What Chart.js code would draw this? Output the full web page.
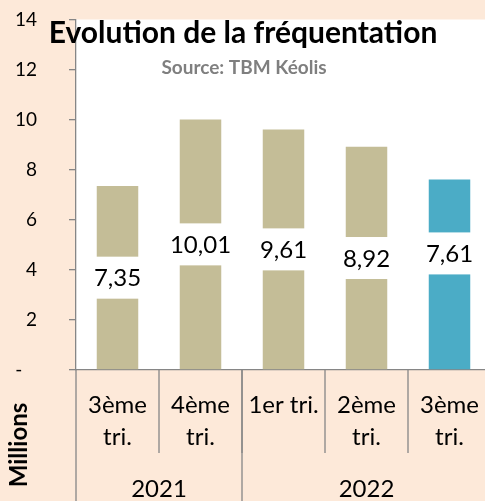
<!DOCTYPE html>
<html>
<head>
<meta charset="utf-8">
<script src="https://cdn.jsdelivr.net/npm/chart.js@4.4.1/dist/chart.umd.min.js"></script>
<style>
  html, body { margin: 0; padding: 0; overflow: hidden; background: #FDE9D9; }
  #wrap { width: 491px; height: 501px; }
</style>
</head>
<body>
<div id="wrap"><canvas id="chart"></canvas></div>
<script>
// Fréquentation TBM, en millions de voyages par trimestre
const quarters = [['3ème', 'tri.'], ['4ème', 'tri.'], ['1er tri.'], ['2ème', 'tri.'], ['3ème', 'tri.']];
const years = ['2021', '2022'];
const yearSpans = [2, 3];
const values = [7.35, 10.01, 9.61, 8.92, 7.61];
const barColors = ['#C4BD97', '#C4BD97', '#C4BD97', '#C4BD97', '#4BACC6'];
const yTicks = [0, 2, 4, 6, 8, 10, 12, 14];
// the last label was nudged up by hand in the original
const labelShift = [0, 0, 0, 0, -21];

const PEACH = '#FDE9D9';
const AXIS = '#868686';
const FONT = 'Lato, "Open Sans", sans-serif';

function fmtFr(v) { return v.toFixed(2).replace('.', ','); }

const decorPlugin = {
  id: 'decor',
  beforeDraw(chart) {
    const ctx = chart.ctx, a = chart.chartArea;
    ctx.save();
    ctx.fillStyle = PEACH;
    ctx.fillRect(0, 0, chart.width, chart.height);
    ctx.fillStyle = '#ffffff';
    ctx.fillRect(a.left, a.top, a.right - a.left, a.bottom - a.top);
    ctx.restore();
  },
  afterDatasetsDraw(chart) {
    // white label boxes in the middle of each bar
    const ctx = chart.ctx;
    const meta = chart.getDatasetMeta(0);
    ctx.save();
    ctx.font = '24px ' + FONT;
    ctx.textAlign = 'center';
    ctx.textBaseline = 'middle';
    meta.data.forEach(function (bar, i) {
      const cy = (bar.y + bar.base) / 2 + labelShift[i];
      const w = bar.width + 8;
      ctx.fillStyle = '#ffffff';
      ctx.fillRect(bar.x - w / 2, cy - 21, w, 42);
      ctx.fillStyle = '#000000';
      ctx.fillText(fmtFr(values[i]), bar.x, cy + 1);
    });
    ctx.restore();
  },
  afterDraw(chart) {
    const ctx = chart.ctx, a = chart.chartArea;
    const step = (a.right - a.left) / quarters.length;
    ctx.save();
    ctx.strokeStyle = AXIS;
    ctx.lineWidth = 1.3;
    // left edge runs to the bottom
    ctx.beginPath();
    ctx.moveTo(a.left, a.bottom);
    ctx.lineTo(a.left, chart.height);
    ctx.stroke();
    // quarter separators
    for (let i = 1; i < quarters.length; i++) {
      const px = a.left + step * i;
      ctx.beginPath();
      ctx.moveTo(px, a.bottom);
      ctx.lineTo(px, a.bottom + 83);
      ctx.stroke();
    }
    // year separators and labels
    ctx.font = '24px ' + FONT;
    ctx.fillStyle = '#000000';
    ctx.textAlign = 'center';
    ctx.textBaseline = 'middle';
    let start = 0;
    years.forEach(function (yr, k) {
      const left = a.left + step * start;
      const right = a.left + step * (start + yearSpans[k]);
      if (k > 0) {
        ctx.beginPath();
        ctx.moveTo(left, a.bottom);
        ctx.lineTo(left, chart.height);
        ctx.stroke();
      }
      ctx.fillText(yr, (left + right) / 2, a.bottom + 119);
      start += yearSpans[k];
    });
    // title + source
    ctx.font = 'bold 30px ' + FONT;
    ctx.fillText('Evolution de la fréquentation', 243, 33);
    ctx.font = 'bold 19px ' + FONT;
    ctx.fillStyle = '#7F7F7F';
    ctx.fillText('Source: TBM Kéolis', 244, 68);
    // unit label
    ctx.translate(19, 445);
    ctx.rotate(-Math.PI / 2);
    ctx.font = 'bold 24px ' + FONT;
    ctx.fillStyle = '#000000';
    ctx.fillText('Millions', 0, 0);
    ctx.restore();
  }
};

new Chart(document.getElementById('chart'), {
  type: 'bar',
  data: {
    labels: quarters,
    datasets: [{
      data: values,
      backgroundColor: barColors,
      borderWidth: 0,
      categoryPercentage: 1,
      barPercentage: 0.5,
    }],
  },
  options: {
    responsive: true,
    maintainAspectRatio: false,
    animation: false,
    layout: { padding: 0 },
    plugins: { legend: { display: false }, tooltip: { enabled: false } },
    scales: {
      x: {
        afterFit: function (s) { s.height = 131; s.paddingLeft = 0; s.paddingRight = 0; },
        grid: { display: false },
        border: { display: true, color: AXIS, width: 1.3 },
        ticks: { color: '#000', font: { family: FONT, size: 24, lineHeight: 1.33 }, padding: 11, maxRotation: 0, autoSkip: false },
      },
      y: {
        min: 0, max: 14,
        afterFit: function (s) { s.width = 76; s.paddingTop = 19.5; s.paddingBottom = 0; },
        afterBuildTicks: function (s) { s.ticks = yTicks.map(function (v) { return { value: v }; }); },
        grid: { drawOnChartArea: false, tickLength: 7, color: AXIS, lineWidth: 1.3 },
        border: { display: true, color: AXIS, width: 1.3 },
        ticks: {
          color: '#000', font: { family: FONT, size: 19 }, padding: 32,
          callback: function (v) { return v === 0 ? '-   ' : String(v); },
        },
      },
    },
  },
  plugins: [decorPlugin],
});
</script>
</body>
</html>
